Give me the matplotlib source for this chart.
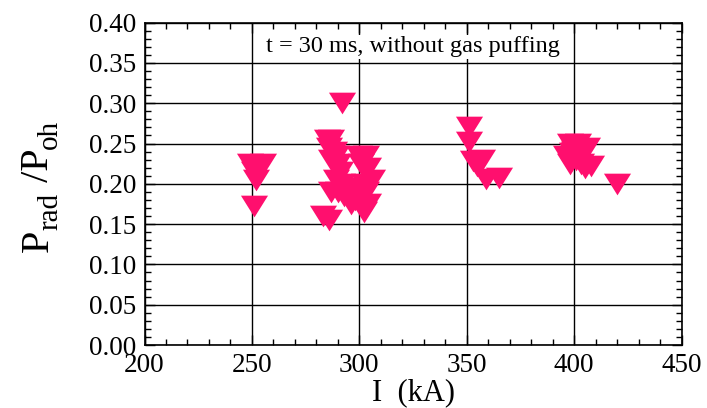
import numpy as np
import matplotlib
matplotlib.use("Agg")
import matplotlib.pyplot as plt
from matplotlib.ticker import MultipleLocator, FormatStrFormatter

plt.rcParams['font.family'] = ['Liberation Serif', 'DejaVu Serif']

# plasma current (kA) and radiated / ohmic power ratio, t = 30 ms
current = [
    249, 255, 251, 252, 251,
    292,
    285, 287, 286, 288, 289, 287, 290, 291, 289, 292,
    300, 303, 301, 304, 306, 302, 299, 303, 300, 298, 296, 304, 302,
    293, 290, 287, 283, 286,
    351, 351, 353, 357, 355, 359, 365,
    398, 402, 406, 396, 399, 401, 398, 403, 405, 408, 400,
    420,
]
ratio = [
    0.225, 0.225, 0.215, 0.205, 0.172,
    0.300,
    0.255, 0.255, 0.245, 0.240, 0.235, 0.230, 0.225, 0.215, 0.205, 0.200,
    0.235, 0.235, 0.225, 0.220, 0.205, 0.200, 0.195, 0.190, 0.185, 0.180,
    0.175, 0.175, 0.165,
    0.185, 0.190, 0.190, 0.160, 0.155,
    0.270, 0.252, 0.228, 0.230, 0.222, 0.206, 0.207,
    0.250, 0.250, 0.245, 0.235, 0.238, 0.230, 0.225, 0.225, 0.220, 0.222, 0.240,
    0.200,
]

W, H = 707, 408
fig = plt.figure(figsize=(W / 100, H / 100), dpi=100)
ax = fig.add_axes([0.2044, 0.1544, 0.7596, 0.7900])

# wide, flat downward triangle like the original marker
tri = [(-1, 0.8), (1, 0.8), (0, -0.8)]
ax.plot(current, ratio, linestyle='none', marker=tri, markersize=19.5,
        color='#FF0F6E', markeredgewidth=0)

ax.set_xlim(200, 450)
ax.set_ylim(0, 0.40)
ax.xaxis.set_major_locator(MultipleLocator(50))
ax.xaxis.set_minor_locator(MultipleLocator(10))
ax.yaxis.set_major_locator(MultipleLocator(0.05))
ax.yaxis.set_minor_locator(MultipleLocator(0.01))
ax.yaxis.set_major_formatter(FormatStrFormatter('%.2f'))
ax.tick_params(which='both', direction='in', top=True, right=True,
               labelsize=19.5, width=1)
ax.tick_params(which='major', length=7, pad=6)
ax.tick_params(which='minor', length=4)
ax.grid(True, which='major', color='black', linewidth=1)
ax.set_axisbelow(True)
for s in ax.spines.values():
    s.set_linewidth(1.2)

ax.set_xlabel('I  (kA)', fontsize=22, labelpad=0)

# y label built from pieces so the subscripts stay large
renderer = fig.canvas.get_renderer()
xb, yb = 48, H - 252
for s, fs, dx in [('P', 29, 0), ('rad', 21, 9), (' /P', 29, 0), ('oh', 21, 9)]:
    t = fig.text((xb + dx) / W, yb / H, s, rotation=90, rotation_mode='anchor',
                 ha='left', va='baseline', fontsize=fs)
    yb += t.get_window_extent(renderer).height

ax.text(0.5, 0.925, 't = 30 ms, without gas puffing', transform=ax.transAxes,
        ha='center', va='center', fontsize=17.5,
        bbox=dict(facecolor='white', edgecolor='none', pad=1))

fig.savefig('out.png', dpi=100)
